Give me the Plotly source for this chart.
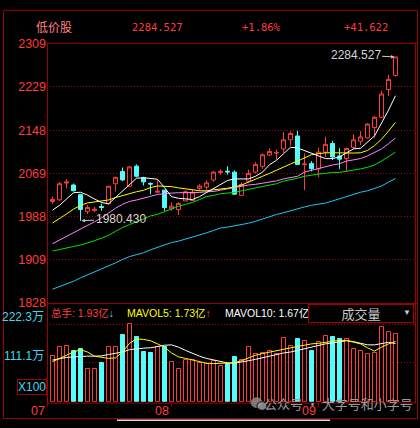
import plotly.graph_objects as go

W, H = 420, 428

# ---------------- data ----------------
day_index = list(range(50))

opens = [2016.4, 2019.5, 2050.5, 2046.9, 2029.0, 1997.9, 1999.8, 2006.9, 2012.3, 2049.3,
         2072.1, 2044.6, 2081.9, 2060.4, 2050.0, 2033.5, 2037.4, 2002.6, 2001.5, 2017.3,
         2018.2, 2040.6, 2043.3, 2056.4, 2070.3, 2072.6, 2070.8, 2027.7, 2054.1, 2070.8,
         2081.6, 2102.6, 2106.2, 2113.9, 2130.8, 2137.9, 2084.6, 2087.0, 2076.9, 2107.9,
         2124.1, 2100.8, 2095.9, 2116.4, 2128.2, 2134.3, 2153.4, 2172.6, 2224.1, 2250.3]
highs = [2025.4, 2052.8, 2057.7, 2049.6, 2030.8, 2009.8, 2006.2, 2012.3, 2045.7, 2062.2,
         2079.2, 2081.9, 2085.2, 2062.2, 2051.8, 2055.9, 2038.0, 2014.6, 2014.6, 2037.1,
         2038.9, 2048.2, 2055.3, 2072.9, 2075.6, 2081.6, 2073.9, 2051.8, 2075.6, 2089.1,
         2105.3, 2115.1, 2112.8, 2145.1, 2146.2, 2147.5, 2105.6, 2091.3, 2116.4, 2136.1,
         2129.0, 2115.1, 2116.0, 2140.8, 2146.9, 2161.8, 2174.9, 2221.9, 2251.6, 2284.527]
lows = [2011.9, 2017.3, 2041.0, 2035.3, 1980.43, 1993.1, 1996.7, 1999.0, 2011.0, 2034.9,
        2054.1, 2043.3, 2061.3, 2046.0, 2029.5, 2032.6, 1999.0, 1999.4, 1991.3, 2017.0,
        2018.2, 2036.2, 2037.4, 2052.8, 2066.1, 2066.1, 2029.0, 2027.7, 2050.5, 2068.5,
        2077.0, 2100.8, 2093.6, 2106.7, 2120.0, 2084.6, 2037.4, 2072.1, 2061.3, 2099.0,
        2093.1, 2076.9, 2072.1, 2113.9, 2121.1, 2133.1, 2134.9, 2170.8, 2212.1, 2248.0]
closes = [2020.0, 2049.3, 2052.3, 2036.2, 2001.5, 2005.1, 2002.0, 2005.1, 2044.6, 2061.3,
          2056.4, 2080.5, 2063.1, 2052.8, 2048.7, 2035.3, 2005.1, 2007.5, 2012.8, 2034.4,
          2033.5, 2045.1, 2051.0, 2070.8, 2072.1, 2071.2, 2029.9, 2047.8, 2068.5, 2085.2,
          2103.1, 2109.2, 2107.4, 2130.8, 2142.6, 2085.2, 2085.9, 2077.1, 2107.9, 2122.3,
          2099.0, 2094.8, 2114.6, 2130.8, 2136.1, 2160.0, 2172.6, 2215.7, 2242.9, 2284.527]

ma5 = [2000.3, 2009.2, 2020.9, 2032.6, 2033.5, 2028.1, 2020.9, 2014.6, 2011.9, 2023.6,
       2035.3, 2046.9, 2059.5, 2060.4, 2058.6, 2057.7, 2042.1, 2025.4, 2022.3, 2021.3,
       2020.0, 2025.4, 2033.1, 2041.0, 2048.2, 2055.3, 2058.2, 2058.2, 2058.2, 2063.1,
       2070.8, 2084.6, 2092.7, 2104.9, 2116.9, 2115.7, 2111.0, 2104.9, 2100.8, 2095.9,
       2095.9, 2099.0, 2106.7, 2113.9, 2115.1, 2125.9, 2137.9, 2161.8, 2185.7, 2212.6]
ma10 = [1976.4, 1984.1, 1993.1, 2002.0, 2009.2, 2013.7, 2015.5, 2016.4, 2019.1, 2023.6,
        2027.2, 2031.7, 2034.4, 2037.1, 2042.1, 2045.1, 2044.6, 2043.9, 2041.6, 2039.2,
        2038.0, 2036.2, 2036.2, 2038.0, 2039.2, 2041.0, 2043.3, 2046.9, 2052.3, 2057.2,
        2063.1, 2068.5, 2074.7, 2081.0, 2085.9, 2091.3, 2097.2, 2103.1, 2104.9, 2106.7,
        2106.7, 2106.2, 2106.2, 2106.2, 2106.7, 2111.0, 2120.0, 2131.8, 2146.9, 2163.1]
ma20 = [1938.0, 1944.6, 1951.8, 1959.0, 1964.4, 1971.5, 1978.7, 1985.9, 1994.9, 2003.8,
        2011.0, 2016.4, 2019.1, 2021.8, 2025.9, 2029.5, 2031.3, 2032.0, 2032.6, 2032.6,
        2033.1, 2033.1, 2034.4, 2034.9, 2037.4, 2039.7, 2042.8, 2045.1, 2046.9, 2048.2,
        2050.0, 2052.3, 2054.6, 2058.2, 2060.7, 2063.1, 2070.8, 2074.4, 2078.0, 2081.6,
        2084.1, 2086.4, 2091.3, 2093.6, 2095.9, 2100.8, 2106.7, 2113.9, 2123.6, 2134.3]
ma30 = [1924.3, 1927.5, 1930.2, 1932.9, 1935.6, 1939.2, 1943.7, 1948.2, 1953.6, 1960.8,
        1968.0, 1973.4, 1978.7, 1984.1, 1989.5, 1992.5, 1997.2, 2003.3, 2007.4, 2011.0,
        2014.6, 2020.0, 2025.4, 2027.7, 2030.8, 2032.0, 2033.1, 2036.1, 2038.5, 2041.0,
        2043.3, 2046.4, 2049.3, 2054.1, 2056.4, 2059.5, 2063.1, 2065.4, 2067.2, 2068.5,
        2070.3, 2070.3, 2072.1, 2075.1, 2076.9, 2079.8, 2084.1, 2091.3, 2099.5, 2107.9]
ma60 = [1853.6, 1858.5, 1862.9, 1868.3, 1874.6, 1880.0, 1885.4, 1890.8, 1896.2, 1902.4,
        1908.7, 1914.1, 1917.7, 1921.3, 1926.7, 1931.5, 1935.6, 1940.2, 1942.8, 1946.4,
        1950.9, 1954.5, 1958.1, 1962.6, 1967.1, 1968.8, 1971.0, 1973.4, 1976.0, 1979.6,
        1984.1, 1987.7, 1992.2, 1995.4, 1999.4, 2003.3, 2006.2, 2009.2, 2011.0, 2013.4,
        2017.3, 2021.3, 2025.4, 2030.2, 2033.5, 2036.2, 2040.7, 2045.1, 2052.3, 2059.0]

# volume in 万 (axis shows X100)
volumes = [131, 158, 161, 147, 150, 95, 95, 111, 158, 158,
           192, 222.3, 186, 142, 139, 158, 156, 114, 95, 120,
           119, 111, 108, 117, 103, 108, 128, 120, 156, 136,
           139, 147, 136, 183, 161, 181, 175, 147, 172, 189,
           186, 181, 181, 150, 145, 136, 139, 214, 200, 193]
mavol5 = [114.8, 124.3, 133.4, 142.6, 149.3, 142.6, 130.7, 127.1, 124.3, 125.9,
          142.6, 167.6, 179.9, 178.8, 175.1, 166.0, 156.5, 139.8, 128.7, 124.3,
          119.5, 114.8, 110.4, 109.3, 110.4, 112.0, 112.0, 117.6, 125.9, 133.4,
          138.2, 142.6, 145.4, 149.3, 154.8, 158.5, 162.1, 166.0, 167.6, 170.4,
          173.2, 176.0, 176.0, 170.4, 166.0, 154.8, 145.4, 156.5, 166.0, 173.0]
mavol10 = [119.5, 124.3, 127.0, 128.7, 130.7, 130.7, 130.7, 131.5, 135.4, 138.2,
           142.6, 149.3, 152.1, 153.7, 154.8, 158.5, 162.1, 163.2, 156.5, 147.3,
           138.2, 130.7, 124.3, 119.5, 114.0, 111.2, 110.4, 113.1, 117.6, 121.5,
           125.9, 130.7, 136.2, 139.8, 142.6, 147.3, 152.1, 158.5, 162.1, 166.0,
           168.7, 172.4, 175.1, 172.4, 168.7, 163.2, 163.2, 167.6, 170.4, 167.0]

index_name = "低价股"
last_price_text = "2284.527"
pct_change_text = "+1.86%"
abs_change_text = "+41.622"

price_tick_vals = [1828.0, 1908.17, 1988.33, 2068.5, 2148.67, 2228.83, 2309.0]
price_tick_text = ["1828", "1909", "1988", "2069", "2148", "2229", "2309"]
vol_tick_vals = [111.15, 222.3]
vol_tick_text = ["111.1万", "222.3万"]
month_labels = ["07", "08", "09"]
month_first_index = [0, 17, 38]

vol_total_text = "1.93亿"
mavol5_text = "1.73亿"
mavol10_text = "1.67亿"

high_index, high_text = 49, "2284.527"
low_index, low_text = 4, "1980.430"

# ---------------- styling / geometry ----------------
RED = "#ff3c3c"
CYAN = "#54fcfc"
FRAME = "#a00000"
GRIDC = "#b00000"
VOLTXT = "#40d8f0"
SANS = "Liberation Sans, Arial, Noto Sans CJK SC"
MONO = "DejaVu Sans Mono, Liberation Mono, Noto Sans CJK SC"
CJK = "Noto Sans CJK SC"

PL, PR = 47.0, 415.0          # plot left / right (px, whole pixels)
MAIN_T, MAIN_B = 38.0, 306.0  # price panel
VOL_T, VOL_B = 306.0, 408.0   # volume panel
SLOT = 7.0                    # px per trading day
FIRST_CX = 52.5               # px of first candle centre (half pixel -> crisp 1px wick)
VOL_PER_PX = 2.779


def fx(px):
    return px / W


def fy(py):
    return 1 - py / H


x_left = -(FIRST_CX - PL) / SLOT
x_right = x_left + (PR - PL) / SLOT

up = [c >= o for o, c in zip(opens, closes)]
bar_fill = ["#000000" if u else CYAN for u in up]
bar_line = [RED if u else CYAN for u in up]

fig = go.Figure()

fig.add_trace(go.Candlestick(
    x=day_index, open=opens, high=highs, low=lows, close=closes,
    xaxis="x", yaxis="y", whiskerwidth=0,
    increasing=dict(line=dict(color=RED, width=1), fillcolor="black"),
    decreasing=dict(line=dict(color=CYAN, width=1), fillcolor=CYAN),
    hoverinfo="skip", showlegend=False,
))
for series, col in [(ma60, "#1ec8f0"), (ma30, "#00e600"), (ma20, "#ff80ff"),
                    (ma10, "#ffff00"), (ma5, "#ffffff")]:
    fig.add_trace(go.Scatter(x=day_index, y=series, mode="lines", xaxis="x", yaxis="y",
                             line=dict(color=col, width=1), hoverinfo="skip",
                             showlegend=False))

fig.add_trace(go.Bar(x=day_index, y=volumes, xaxis="x2", yaxis="y2",
                     width=4 / SLOT, offset=-1.5 / SLOT,
                     marker=dict(color=bar_fill, line=dict(color=bar_line, width=1)),
                     hoverinfo="skip", showlegend=False))
fig.add_trace(go.Scatter(x=day_index, y=mavol10, mode="lines", xaxis="x2", yaxis="y2",
                         line=dict(color="#ffffff", width=1), hoverinfo="skip",
                         showlegend=False))
fig.add_trace(go.Scatter(x=day_index, y=mavol5, mode="lines", xaxis="x2", yaxis="y2",
                         line=dict(color="#ffff00", width=1), hoverinfo="skip",
                         showlegend=False))

axis_common = dict(showline=False, zeroline=False, showgrid=False, showticklabels=False,
                   ticks="", fixedrange=True)

fig.update_layout(
    width=W, height=H, margin=dict(l=0, r=0, t=0, b=0),
    paper_bgcolor="black", plot_bgcolor="black",
    showlegend=False, bargap=0, bargroupgap=0, boxgap=3 / 7, boxgroupgap=0,
    xaxis=dict(domain=[fx(PL), fx(PR)], range=[x_left, x_right], anchor="y",
               rangeslider=dict(visible=False), **axis_common),
    xaxis2=dict(domain=[fx(PL), fx(PR)], range=[x_left, x_right], anchor="y2",
                matches="x", **axis_common),
    yaxis=dict(domain=[fy(MAIN_B), fy(MAIN_T)], range=[1828, 2309], anchor="x",
               showline=False, zeroline=False, fixedrange=True, ticks="",
               tickvals=price_tick_vals, ticktext=price_tick_text,
               tickfont=dict(color=RED, size=12.5, family=SANS),
               showgrid=True, gridcolor=GRIDC, gridwidth=1, griddash="1px,2px"),
    yaxis2=dict(domain=[fy(VOL_B), fy(VOL_T)], range=[0, (VOL_B - VOL_T) * VOL_PER_PX],
                anchor="x2", showline=False, zeroline=False, fixedrange=True, ticks="",
                tickvals=vol_tick_vals, showticklabels=False,
                showgrid=True, gridcolor=GRIDC, gridwidth=1, griddash="1px,2px"),
)

shapes = []


def hline(py, x0, x1, color=FRAME, width=1):
    shapes.append(dict(type="line", xref="paper", yref="paper", x0=fx(x0), x1=fx(x1),
                       y0=fy(py), y1=fy(py), line=dict(color=color, width=width),
                       layer="above"))


def vline(px, y0, y1, color=FRAME, width=1):
    shapes.append(dict(type="line", xref="paper", yref="paper", x0=fx(px), x1=fx(px),
                       y0=fy(y0), y1=fy(y1), line=dict(color=color, width=width),
                       layer="above"))


# outer frame
hline(3.5, 3.5, 417.5)
hline(425.5, 3.5, 417.5)
vline(3.5, 3.5, 425.5)
vline(417.5, 3.5, 425.5)
# plot frames
hline(37.5, 47.5, 417.5)
hline(306.5, 47.5, 417.5)
hline(409.5, 47.5, 415.5)
vline(47.5, 37.5, 413)
vline(415.5, 37.5, 409.5)
# scroll bar
shapes.append(dict(type="rect", xref="paper", yref="paper", x0=fx(117), x1=fx(330),
                   y0=fy(428), y1=fy(426.5), fillcolor="#d8d8d8", line=dict(width=0),
                   layer="above"))
# month ticks
for idx in month_first_index:
    if idx > 0:
        shapes.append(dict(type="line", xref="x2", yref="paper", x0=idx, x1=idx,
                           y0=fy(409.5), y1=fy(413), line=dict(color=FRAME, width=1),
                           layer="above"))
# watermark icon
shapes.append(dict(type="circle", xref="paper", yref="paper", x0=fx(251), x1=fx(262),
                   y0=fy(414), y1=fy(404), fillcolor="#8c8c8c",
                   line=dict(color="#8c8c8c", width=1), opacity=0.85, layer="above"))
shapes.append(dict(type="circle", xref="paper", yref="paper", x0=fx(257), x1=fx(267),
                   y0=fy(417), y1=fy(408), fillcolor="#9a9a9a",
                   line=dict(color="black", width=1), opacity=0.85, layer="above"))
fig.update_layout(shapes=shapes)

ann = []


def text_px(x, y, txt, color, size, family, xanchor="center"):
    ann.append(dict(xref="paper", yref="paper", x=fx(x), y=fy(y), text=txt,
                    showarrow=False, xanchor=xanchor, yanchor="middle",
                    font=dict(color=color, size=size, family=family)))


# header
text_px(53.5, 20.5, index_name, "#ff8080", 12, CJK)
text_px(157.5, 20.5, last_price_text, RED, 10.5, MONO)
text_px(261.5, 20.5, pct_change_text, RED, 10.5, MONO)
text_px(365.5, 20.5, abs_change_text, RED, 10.5, MONO)

# volume axis labels (sit a little above their grid lines)
for v, t in zip(vol_tick_vals, vol_tick_text):
    ann.append(dict(xref="paper", yref="y2", x=fx(45.5), y=v, yshift=7, text=t,
                    showarrow=False, xanchor="right", yanchor="middle",
                    font=dict(color=VOLTXT, size=12, family=SANS)))

# volume legend
text_px(48.5, 316.5, "总手: " + vol_total_text + "<span style='color:%s'>↓</span>" % VOLTXT,
        RED, 10.5, SANS, "left")
text_px(124.5, 316.5, "MAVOL5: " + mavol5_text + "<span style='color:%s'>↑</span>" % RED,
        "#ffff00", 10.5, SANS, "left")
text_px(222.5, 316.5, "MAVOL10: " + mavol10_text + "<span style='color:%s'>↑</span>" % RED,
        "#ffffff", 10.5, SANS, "left")
# 成交量 selector box, drawn over the end of the MAVOL10 text as in the reference
ann.append(dict(xref="paper", yref="paper", x=fx(307.5), y=fy(307.5), text="成交量",
                showarrow=False, xanchor="left", yanchor="top", width=104, height=17,
                align="center", valign="middle", bgcolor="black", bordercolor=FRAME,
                borderwidth=1, borderpad=0,
                font=dict(color="#c8c8c8", size=13, family=CJK)))
text_px(407, 316, "▼", "#c8c8c8", 8, SANS)

# X100 box
ann.append(dict(xref="paper", yref="paper", x=fx(32), y=fy(393), text="X100",
                showarrow=False, xanchor="center", yanchor="middle",
                font=dict(color=VOLTXT, size=12, family=SANS),
                bordercolor=FRAME, borderwidth=1, borderpad=0, bgcolor="black"))

# month labels
for lab, idx in zip(month_labels, month_first_index):
    ann.append(dict(xref="x2", yref="paper", x=(x_left if idx == 0 else idx - 0.1),
                    y=fy(418), text=lab, showarrow=False, xanchor="right",
                    yanchor="middle", font=dict(color=RED, size=12.5, family=SANS)))

# watermark
text_px(338, 410, "公众号 · 大字号和小字号", "#9a9a9a", 13, CJK)

# high / low markers
ann.append(dict(xref="x", yref="y", x=high_index, y=highs[high_index], text=high_text,
                showarrow=True, ax=-40, ay=-2, arrowhead=2, arrowsize=0.7, arrowwidth=1,
                arrowcolor="#c8c8c8", standoff=1,
                font=dict(color="#d4d4d4", size=12, family=SANS)))
ann.append(dict(xref="x", yref="y", x=low_index, y=lows[low_index], text=low_text,
                showarrow=True, ax=40, ay=-2, arrowhead=2, arrowsize=0.7, arrowwidth=1,
                arrowcolor="#c8c8c8", standoff=1,
                font=dict(color="#d4d4d4", size=12, family=SANS)))

fig.update_layout(annotations=ann)

fig.write_html("out.html")
